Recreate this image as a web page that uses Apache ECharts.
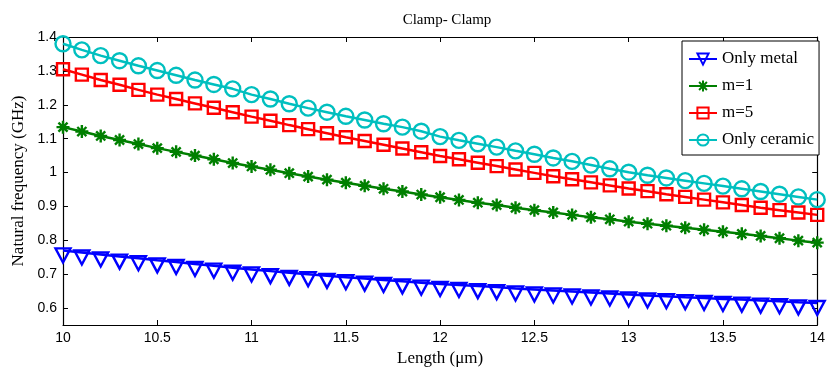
<!DOCTYPE html>
<html>
<head>
<meta charset="utf-8">
<script src="https://cdn.jsdelivr.net/npm/echarts@6/dist/echarts.min.js"></script>
<style>
  html, body { margin: 0; padding: 0; background: #fff; }
  #chart { width: 828px; height: 372px; }
</style>
</head>
<body>
<div id="chart"></div>
<script>
// length in um, 10 .. 14 step 0.1
const lengths = [
  10.0, 10.1, 10.2, 10.3, 10.4, 10.5, 10.6, 10.7, 10.8, 10.9,
  11.0, 11.1, 11.2, 11.3, 11.4, 11.5, 11.6, 11.7, 11.8, 11.9,
  12.0, 12.1, 12.2, 12.3, 12.4, 12.5, 12.6, 12.7, 12.8, 12.9,
  13.0, 13.1, 13.2, 13.3, 13.4, 13.5, 13.6, 13.7, 13.8, 13.9, 14.0
];

const onlyMetal = [
  0.770, 0.764, 0.758, 0.752, 0.747, 0.741, 0.736, 0.730, 0.725, 0.719,
  0.714, 0.709, 0.704, 0.700, 0.695, 0.691, 0.687, 0.683, 0.679, 0.675,
  0.671, 0.668, 0.665, 0.662, 0.658, 0.655, 0.652, 0.649, 0.646, 0.643,
  0.640, 0.637, 0.635, 0.632, 0.630, 0.627, 0.625, 0.622, 0.620, 0.617, 0.615
];

const m1 = [
  1.134, 1.121, 1.108, 1.096, 1.084, 1.072, 1.061, 1.050, 1.039, 1.028,
  1.018, 1.008, 0.998, 0.988, 0.979, 0.970, 0.961, 0.952, 0.944, 0.935,
  0.927, 0.919, 0.911, 0.904, 0.896, 0.889, 0.882, 0.875, 0.868, 0.862,
  0.855, 0.849, 0.843, 0.837, 0.831, 0.825, 0.819, 0.813, 0.806, 0.799, 0.793
];

const m5 = [
  1.305, 1.289, 1.273, 1.259, 1.244, 1.230, 1.217, 1.204, 1.191, 1.178,
  1.165, 1.153, 1.140, 1.128, 1.116, 1.104, 1.093, 1.082, 1.071, 1.060,
  1.049, 1.039, 1.029, 1.019, 1.009, 0.999, 0.989, 0.980, 0.971, 0.962,
  0.953, 0.945, 0.936, 0.928, 0.920, 0.912, 0.904, 0.896, 0.889, 0.882, 0.875
];

const onlyCeramic = [
  1.380, 1.362, 1.345, 1.330, 1.315, 1.301, 1.287, 1.273, 1.260, 1.247,
  1.230, 1.217, 1.203, 1.190, 1.178, 1.166, 1.155, 1.144, 1.134, 1.122,
  1.106, 1.095, 1.085, 1.075, 1.064, 1.054, 1.043, 1.033, 1.022, 1.011,
  1.001, 0.992, 0.984, 0.976, 0.968, 0.960, 0.952, 0.944, 0.936, 0.928, 0.920
];

const seriesNames = ['Only metal', 'm=1', 'm=5', 'Only ceramic'];
const seriesColors = ['#0000ff', '#007f00', '#ff0000', '#00bfbf'];

const pair = (ys) => lengths.map((x, i) => [x, ys[i]]);

const chart = echarts.init(document.getElementById('chart'));

const serif = 'Liberation Serif';
const sans = 'Liberation Sans';

// matlab style box: ticks inward on all four sides
const axisCommon = {
  axisLine: { show: true, onZero: false, lineStyle: { color: '#000', width: 1.2 } },
  axisTick: { show: true, inside: true, length: 5, lineStyle: { color: '#000' } },
  splitLine: { show: false },
};

chart.setOption({
  animation: false,
  backgroundColor: '#fff',
  title: {
    text: 'Clamp- Clamp',
    left: 442,
    top: 8,
    textAlign: 'center',
    textStyle: { fontFamily: serif, fontSize: 15, fontWeight: 'normal', color: '#000' },
  },
  grid: { left: 63, right: 5, top: 37, bottom: 47 },
  legend: {
    orient: 'vertical',
    left: 682,
    top: 41,
    padding: [9, 5, 6, 6],
    itemGap: 9,
    itemWidth: 28,
    itemHeight: 14,
    borderColor: '#000',
    borderWidth: 1,
    backgroundColor: '#fff',
    textStyle: { fontFamily: serif, fontSize: 17, color: '#000', lineHeight: 18 },
    data: seriesNames,
  },
  xAxis: [
    {
      ...axisCommon,
      type: 'value',
      min: 10,
      max: 14,
      interval: 0.5,
      name: 'Length (\u03bcm)',
      nameLocation: 'middle',
      nameGap: 23,
      nameTextStyle: { fontFamily: serif, fontSize: 17, color: '#000' },
      axisLabel: { fontFamily: sans, fontSize: 14, color: '#000', margin: 6 },
    },
    {
      ...axisCommon,
      type: 'value',
      position: 'top',
      min: 10,
      max: 14,
      interval: 0.5,
      axisLabel: { show: false },
    },
  ],
  yAxis: [
    {
      ...axisCommon,
      type: 'value',
      min: 0.55,
      max: 1.4,
      splitNumber: 8,
      name: 'Natural frequency (GHz)',
      nameLocation: 'middle',
      nameGap: 35,
      nameTextStyle: { fontFamily: serif, fontSize: 17, color: '#000' },
      axisLabel: {
        fontFamily: sans,
        fontSize: 14,
        color: '#000',
        margin: 6,
        showMinLabel: false,
        formatter: (v) => (Math.abs(v - 1) < 1e-9 ? '1' : String(+v.toFixed(2))),
      },
    },
    {
      ...axisCommon,
      type: 'value',
      position: 'right',
      min: 0.55,
      max: 1.4,
      splitNumber: 8,
      axisLabel: { show: false },
    },
  ],
  series: [
    {
      name: seriesNames[0],
      type: 'line',
      data: pair(onlyMetal),
      symbol: 'path://M0,0L10,0L5,9Z',
      symbolSize: [15, 14],
      symbolOffset: [0, 5],
      lineStyle: { color: seriesColors[0], width: 2.5 },
      itemStyle: { color: 'rgba(0,0,0,0)', borderColor: seriesColors[0], borderWidth: 2.4 },
    },
    {
      name: seriesNames[1],
      type: 'line',
      data: pair(m1),
      symbol: 'path://M5,0L5,10M0,5L10,5M1.5,1.5L8.5,8.5M8.5,1.5L1.5,8.5',
      symbolSize: 13,
      lineStyle: { color: seriesColors[1], width: 2.5 },
      itemStyle: { color: 'rgba(0,0,0,0)', borderColor: seriesColors[1], borderWidth: 2.4 },
    },
    {
      name: seriesNames[2],
      type: 'line',
      data: pair(m5),
      symbol: 'rect',
      symbolSize: 12,
      lineStyle: { color: seriesColors[2], width: 2.5 },
      itemStyle: { color: 'rgba(0,0,0,0)', borderColor: seriesColors[2], borderWidth: 2.4 },
    },
    {
      name: seriesNames[3],
      type: 'line',
      data: pair(onlyCeramic),
      symbol: 'circle',
      symbolSize: 15,
      lineStyle: { color: seriesColors[3], width: 2.5 },
      itemStyle: { color: 'rgba(0,0,0,0)', borderColor: seriesColors[3], borderWidth: 2.4 },
    },
  ],
});
</script>
</body>
</html>
